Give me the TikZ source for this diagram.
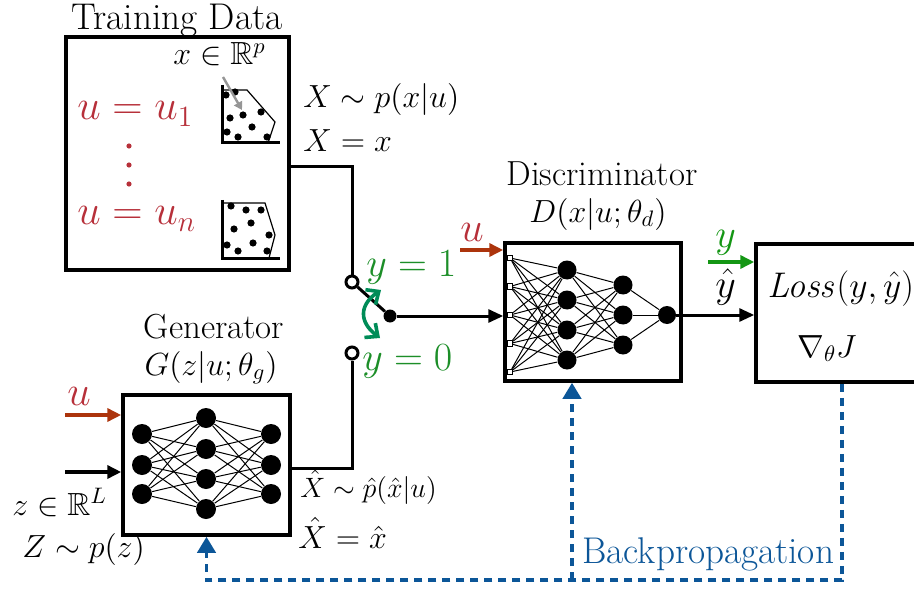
\documentclass[tikz,border=0pt]{standalone}
\usepackage{fix-cm}
\usepackage{amsmath,amssymb}
\usetikzlibrary{arrows.meta}
\definecolor{labred}{RGB}{183,48,58}
\definecolor{inred}{RGB}{172,52,12}
\definecolor{labgreen}{RGB}{28,142,40}
\definecolor{arrgreen}{RGB}{20,150,20}
\definecolor{swgreen}{RGB}{0,140,88}
\definecolor{bpblue}{RGB}{12,86,152}
\definecolor{ptgray}{RGB}{150,150,150}
\begin{document}
\begin{tikzpicture}[x=0.5pt,y=-0.5pt,
  font=\fontsize{16}{19}\selectfont,
  block/.style={draw,line width=1.75pt,inner sep=0pt,fill=white},
  wire/.style={line width=1.5pt},
  arr/.style={wire,-{Triangle[length=7.5pt,width=6.5pt]}},
  inarr/.style={line width=1.8pt,-{Triangle[length=7pt,width=6.5pt]}},
  bp/.style={draw=bpblue,line width=1.9pt,dash pattern=on 4pt off 3pt},
  bparr/.style={bp,-{Triangle[length=8pt,width=9pt]}},
  neuron/.style={circle,fill=black,inner sep=0pt,minimum size=#1},
  inp/.style={draw,fill=white,line width=0.5pt,inner sep=0pt,minimum size=2.6pt},
  terminal/.style={circle,draw,fill=white,line width=1.5pt,inner sep=0pt,minimum size=6pt},
  syn/.style={line width=0.5pt},
  big/.style={font=\fontsize{20}{24}\selectfont},
  ttlfont/.style={font=\fontsize{17.4}{20}\selectfont},
  lbl/.style={anchor=base west,inner sep=0pt},
  ttl/.style={anchor=base,inner sep=0pt},
]
\useasboundingbox (0,0) rectangle (914,588);
\clip (0,0) rectangle (914,588);

% ---------------- blocks ----------------
\node[block,minimum width=111.5pt,minimum height=116.5pt] (data) at (177.5,153.5) {};
\node[block,minimum width=83.5pt,minimum height=70pt] (gen) at (206.5,465) {};
\node[block,minimum width=88pt,minimum height=69pt] (disc) at (593,312) {};
\node[block,minimum width=86pt,minimum height=69pt] (loss) at (842,313) {};

% ---------------- titles ----------------
\node[ttl,font=\fontsize{18.6}{22}\selectfont] (tdata) at (177,30) {Training Data};
\node[ttl,ttlfont] (tdisc) at (602,185) {Discriminator};
\node[ttl] (tdisc2) at (598,222) {$D(x|u;\theta_d)$};
\node[ttl,ttlfont] (tgen) at (214,338) {Generator};
\node[ttl] (tgen2) at (211,375) {$G(z|u;\theta_g)$};

% ---------------- training data contents ----------------
\node[lbl,font=\fontsize{21}{24}\selectfont,text=labred] (u1) at (77,120) {$u=u_1$};
\node[lbl,font=\fontsize{21}{24}\selectfont,text=labred] (un) at (77,225) {$u=u_n$};
\foreach \y in {146,165,184} \fill[labred] (129,\y) circle (1.3pt);
\node[lbl] (xlab) at (173,65) {$x\in\mathbb{R}^p$};

% first point cloud
\draw[line width=1.5pt] (222,85) -- (222,143) -- (280,143);
\draw[line width=0.6pt] (222,90) -- (247,90) -- (275,122) -- (268,143);
\foreach \p in {(226,95),(235,92),(230,118),(243,115),(261,112),(252,127),(227,132),(238,137),(267,137)}
  \fill \p circle (1.8pt);
\coordinate (xtarget) at (242,110);
\coordinate (xsrc) at (223,77);
\draw[ptgray,line width=1.2pt,-{Triangle[length=4pt,width=4.5pt]}] (xsrc) -- (xtarget);

% second point cloud
\draw[line width=1.5pt] (222,200) -- (222,258) -- (280,258);
\draw[line width=0.6pt] (222,203) -- (265,203) -- (275,235) -- (269,258);
\foreach \p in {(231,206),(246,210),(261,210),(251,223),(234,229),(269,235),(227,245),(238,251),(253,243),(267,251)}
  \fill \p circle (1.8pt);

\node[lbl] (xdist) at (303,108) {$X\sim p(x|u)$};
\node[lbl] (xeq) at (303,152) {$X=x$};

% ---------------- generator network ----------------
\foreach \i/\y in {1/434,2/465,3/494} \node[neuron=10pt] (ga\i) at (142,\y) {};
\foreach \i/\y in {1/418,2/449,3/479,4/509} \node[neuron=10pt] (gb\i) at (206,\y) {};
\foreach \i/\y in {1/434,2/465,3/494} \node[neuron=10pt] (gc\i) at (271,\y) {};
\foreach \i in {1,2,3} \foreach \j in {1,...,4} {
  \draw[syn] (ga\i) -- (gb\j);
  \draw[syn] (gb\j) -- (gc\i);
}

% ---------------- discriminator network ----------------
\foreach \i/\y in {1/258,2/286.5,3/315,4/343.5,5/372} \node[inp] (da\i) at (510,\y) {};
\foreach \i/\y in {1/270,2/300,3/330,4/360} \node[neuron=9.5pt] (db\i) at (567,\y) {};
\foreach \i/\y in {1/285,2/315,3/345} \node[neuron=9.5pt] (dc\i) at (623,\y) {};
\node[neuron=9pt] (dd) at (667,315) {};
\foreach \i in {1,...,5} \foreach \j in {1,...,4} \draw[syn] (da\i) -- (db\j);
\foreach \i in {1,...,4} \foreach \j in {1,2,3} \draw[syn] (db\i) -- (dc\j);
\foreach \j in {1,2,3} \draw[syn] (dc\j) -- (dd);

% ---------------- switch ----------------
\node[terminal] (t1) at (352,282) {};
\node[terminal] (t0) at (352,353) {};
\node[circle,fill=black,inner sep=0pt,minimum size=6.5pt] (hub) at (390,316) {};
\draw[wire] ([yshift=-6.75pt]data.east) -| (t1.north);
\draw[wire] ([yshift=-1.5pt]gen.east) -| (t0.south);
\draw[wire] (t1) -- (hub);
\draw[arr] (hub) -- (hub -| disc.west);
\draw[swgreen,line width=1.8pt,{Straight Barb[length=5pt,width=9pt]}-{Straight Barb[length=5pt,width=9pt]}]
  (381,290) .. controls (359,305) and (359,322) .. (380,338);
\node[lbl,big,text=labgreen] (y1) at (366,276) {$y=1$};
\node[lbl,big,text=labgreen] (y0) at (362,370) {$y=0$};

% ---------------- inputs ----------------
\coordinate (ud) at (460,250);
\draw[inarr,inred] (ud) -- (ud -| disc.west);
\node[lbl,font=\fontsize{21}{24}\selectfont,text=labred] (udl) at (460,242) {$u$};

\coordinate (ug) at (65,415);
\draw[inarr,inred] (ug) -- (ug -| gen.west);
\node[lbl,font=\fontsize{21}{24}\selectfont,text=labred] (ugl) at (67,405) {$u$};
\coordinate (zg) at (65,472);
\draw[inarr] (zg) -- (zg -| gen.west);
\node[lbl] (zl) at (12,515) {$z\in\mathbb{R}^L$};
\node[lbl] (Zl) at (22,557) {$Z\sim p(z)$};

\node[lbl,font=\fontsize{14}{17}\selectfont] (xhd) at (300,497) {$\hat X\sim \hat p(\hat x|u)$};
\node[lbl] (xhe) at (298,548) {$\hat X=\hat x$};

% ---------------- loss ----------------
\draw[arr] (dd) -- (dd -| loss.west);
\coordinate (yin) at (708,262);
\draw[inarr,arrgreen] (yin) -- (yin -| loss.west);
\node[lbl,big,text=arrgreen] (ylab) at (715,247) {$y$};
\node[lbl,big] (yhat) at (715,297) {$\hat y$};
\node[lbl,font=\fontsize{17.8}{20}\selectfont] (lossf) at (767,297) {$\mathit{Loss}(y,\hat y)$};
\node[lbl,font=\fontsize{16}{19}\selectfont] (grad) at (797,357) {$\nabla_{\theta}J$};

% ---------------- backpropagation ----------------
\coordinate (bpc) at (842,580);
\coordinate (bpj) at (572,580);
\draw[bparr] (loss.south) -- (bpc) -| (gen.south);
\draw[bparr] (bpj) -- (bpj |- disc.south);
\node[lbl,text=bpblue,font=\fontsize{18.6}{22}\selectfont] (bpl) at (582,563) {Backpropagation};
\end{tikzpicture}
\end{document}
